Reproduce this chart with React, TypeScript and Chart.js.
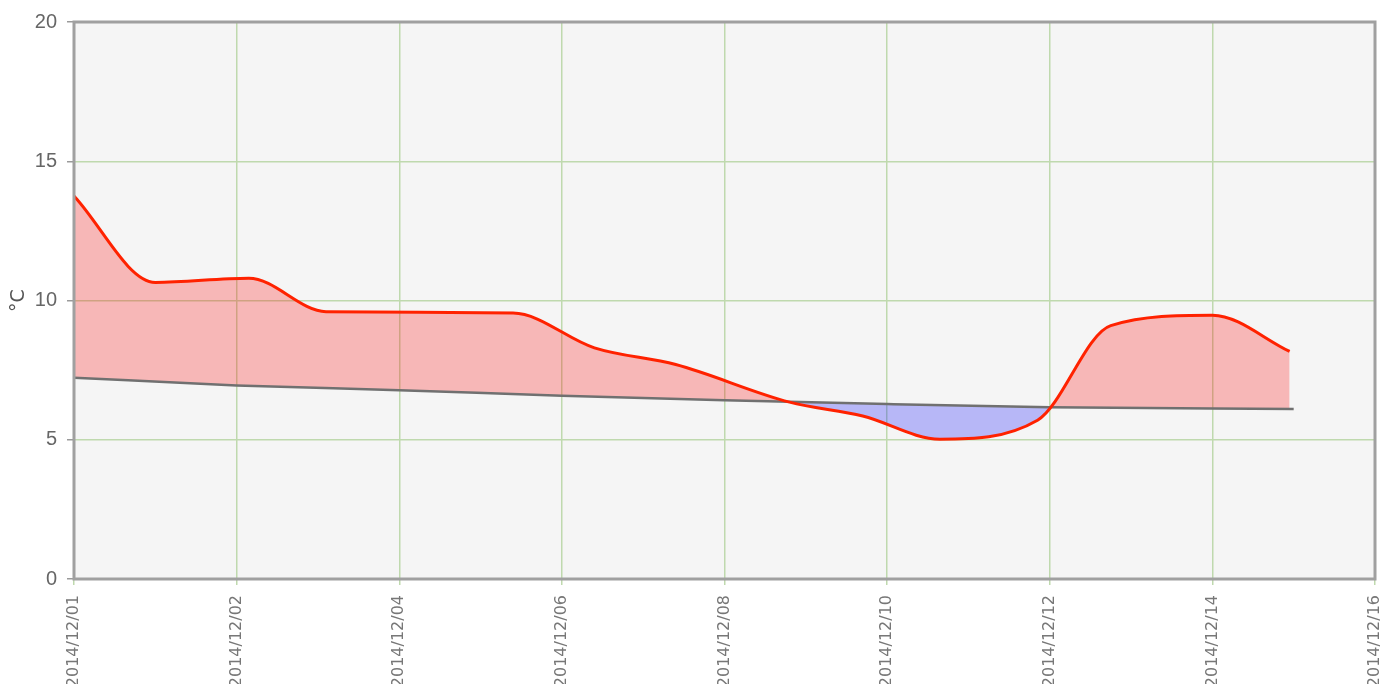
import React, { useEffect, useRef } from 'react';
import { Chart, registerables } from 'chart.js';

Chart.register(...registerables);

// Observed temperature (x = days since 2014/12/01 on the chart's axis)
const OBS_X = [0, 1.0, 2.15, 3.1, 5.4, 6.4, 7.4, 8.8, 9.7, 10.65, 11.85, 12.75, 14.0, 14.95];
const OBS_T = [13.75, 10.65, 10.8, 9.6, 9.55, 8.3, 7.7, 6.35, 5.85, 5.02, 5.7, 9.1, 9.47, 8.17];

// Average temperature
const AVG_X = [0, 2, 4, 6, 8, 10, 12, 15];
const AVG_T = [7.23, 6.95, 6.78, 6.58, 6.42, 6.28, 6.17, 6.1];

// Tick labels
const X_TICK_LABELS = [
  '2014/12/01', '2014/12/02', '2014/12/04', '2014/12/06', '2014/12/08',
  '2014/12/10', '2014/12/12', '2014/12/14', '2014/12/16',
];
const Y_MIN = 0;
const Y_MAX = 20;
const Y_STEP = 5;
const X_MIN = 0;
const X_MAX = 16;
const X_STEP = 2;
const Y_TITLE = '°C';

const GRID_GREEN = '#bfd9ae';

const plotFrame = {
  id: 'plotFrame',
  beforeDraw(chart: any) {
    const { ctx, chartArea: a } = chart;
    ctx.save();
    ctx.fillStyle = '#f5f5f5';
    ctx.fillRect(a.left, a.top, a.right - a.left, a.bottom - a.top);
    ctx.restore();
  },
  afterDraw(chart: any) {
    const { ctx, chartArea: a } = chart;
    ctx.save();
    ctx.strokeStyle = '#a0a0a0';
    ctx.lineWidth = 3;
    ctx.strokeRect(a.left, a.top, a.right - a.left, a.bottom - a.top);
    ctx.restore();
  },
};

export default function App() {
  const canvasRef = useRef<HTMLCanvasElement | null>(null);

  useEffect(() => {
    if (!canvasRef.current) return;
    const chart = new Chart(canvasRef.current, {
      type: 'line',
      data: {
        datasets: [
          {
            label: 'Observed',
            data: OBS_X.map((x, i) => ({ x, y: OBS_T[i] })),
            borderColor: '#ff2200',
            borderWidth: 3,
            pointRadius: 0,
            cubicInterpolationMode: 'monotone',
            fill: {
              target: 1,
              above: 'rgba(255,0,0,0.25)',
              below: 'rgba(0,0,255,0.25)',
            },
          },
          {
            label: 'Average',
            data: AVG_X.map((x, i) => ({ x, y: AVG_T[i] })),
            borderColor: '#707070',
            borderWidth: 2.5,
            pointRadius: 0,
            cubicInterpolationMode: 'monotone',
            fill: false,
          },
        ],
      },
      options: {
        animation: false,
        responsive: true,
        maintainAspectRatio: false,
        layout: { padding: { top: 20, right: 6, left: 0, bottom: 0 } },
        plugins: {
          legend: { display: false },
          tooltip: { enabled: false },
          filler: { drawTime: 'beforeDatasetsDraw' },
        },
        scales: {
          x: {
            type: 'linear',
            min: X_MIN,
            max: X_MAX,
            border: { display: false },
            grid: { color: GRID_GREEN, lineWidth: 1.5, tickColor: GRID_GREEN, tickLength: 6 },
            ticks: {
              stepSize: X_STEP,
              autoSkip: false,
              minRotation: 90,
              maxRotation: 90,
              padding: 10,
              color: '#777',
              font: { family: 'DejaVu Sans', size: 16 },
              callback: (_v: any, i: number) => X_TICK_LABELS[i],
            },
            afterFit: (s: any) => {
              s.height = 121;
              s.paddingLeft = 0;
              s.paddingRight = 0;
            },
          },
          y: {
            min: Y_MIN,
            max: Y_MAX,
            border: { display: false },
            grid: { color: GRID_GREEN, lineWidth: 1.5, tickColor: '#9a9a9a', tickLength: 7 },
            ticks: {
              stepSize: Y_STEP,
              padding: 10,
              color: '#666',
              font: { family: 'Liberation Sans', size: 20 },
            },
            title: {
              display: true,
              text: Y_TITLE,
              color: '#555',
              font: { family: 'DejaVu Sans', size: 19 },
              padding: { top: 8, bottom: 4 },
            },
            afterFit: (s: any) => {
              s.width = 74;
            },
          },
        },
      },
      plugins: [plotFrame],
    } as any);
    return () => chart.destroy();
  }, []);

  return (
    <div style={{ position: 'fixed', left: 0, top: 0, width: 1381, height: 684, overflow: 'hidden', background: '#fff' }}>
      <div style={{ position: 'relative', width: 1381, height: 700 }}>
        <canvas ref={canvasRef} />
      </div>
    </div>
  );
}
